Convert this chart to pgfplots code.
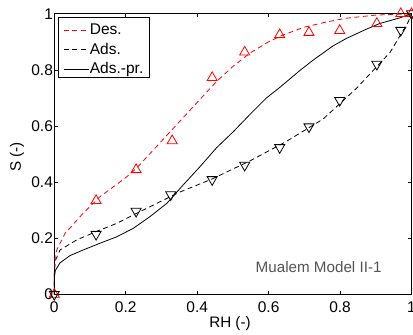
\documentclass[border=0pt]{standalone}
\usepackage{fontspec}
\setmainfont{Liberation Sans}
\usepackage{pgfplots}
\pgfplotsset{compat=1.18}
\definecolor{annot}{rgb}{0.33,0.33,0.33}
\begin{document}
\begin{tikzpicture}
\begin{axis}[
  scale only axis, width=357.2pt, height=280.6pt,
  xmin=0, xmax=1, ymin=0, ymax=1,
  xtick={0,0.2,0.4,0.6,0.8,1}, ytick={0,0.2,0.4,0.6,0.8,1},
  xticklabels={0,0.2,0.4,0.6,0.8,1}, yticklabels={0,0.2,0.4,0.6,0.8,1},
  tick align=inside, major tick length=3.6pt,
  axis line style={line width=0.8pt},
  every tick/.style={black, line width=0.6pt},
  tick label style={font=\fontsize{15.5}{18}\selectfont},
  xticklabel style={inner sep=0pt, yshift=-7.4pt},
  yticklabel style={inner sep=0pt, xshift=-1.2pt},
  xlabel={RH (-)}, ylabel={S (-)},
  every axis x label/.style={at={(axis description cs:0.5,0)}, anchor=north, inner sep=0pt, yshift=-22pt, xshift=-2.9pt, font=\fontsize{15.2}{18}\selectfont},
  every axis y label/.style={at={(axis description cs:0,0.5)}, xshift=-37.3pt, yshift=-2.7pt, rotate=90, anchor=center, inner sep=0pt, font=\fontsize{15.2}{18}\selectfont},
  legend cell align=left,
  legend image code/.code={\draw[#1] (0pt,-2.4pt) -- (25pt,-2.4pt);},
  legend style={at={(axis description cs:0,1)}, anchor=north west,
    xshift=3.7pt, yshift=-3.0pt, draw=black, line width=0.6pt, fill=white,
    inner xsep=5.3pt, inner ysep=3.6pt, row sep=5.7pt, column sep=0pt,
    font=\fontsize{15.5}{18}\selectfont,
    nodes={inner xsep=0.5pt, inner ysep=0pt, text height=14pt, text depth=0pt}},
  clip=false,
]
% Des. curve
\addplot[red, line width=0.8pt, dash pattern=on 5pt off 3.5pt] coordinates {
 (0,0) (0.0003,0.09) (0.003,0.14) (0.007,0.158) (0.03,0.217) (0.081,0.289)
 (0.128,0.348) (0.175,0.392) (0.203,0.419) (0.23,0.449) (0.277,0.514)
 (0.33,0.587) (0.361,0.630) (0.408,0.695) (0.454,0.758) (0.5,0.812)
 (0.547,0.859) (0.6,0.900) (0.64,0.924) (0.7,0.952) (0.76,0.970)
 (0.818,0.984) (0.9,0.995) (1,1)};
\addlegendentry{Des.}
% Ads. curve
\addplot[black, line width=0.8pt, dash pattern=on 5pt off 3.5pt] coordinates {
 (0,0) (0.0003,0.08) (0.003,0.12) (0.016,0.158) (0.063,0.194) (0.12,0.225)
 (0.175,0.253) (0.231,0.289) (0.287,0.324) (0.347,0.362) (0.44,0.41)
 (0.547,0.475) (0.65,0.545) (0.753,0.625) (0.846,0.734) (0.94,0.862)
 (0.991,0.971) (1,1)};
\addlegendentry{Ads.}
% Ads.-pr. curve
\addplot[black, line width=0.8pt] coordinates {
 (0,0) (0.0002,0.06) (0.003,0.085) (0.016,0.112) (0.044,0.138) (0.081,0.158)
 (0.128,0.182) (0.175,0.205) (0.221,0.235) (0.268,0.277) (0.315,0.324)
 (0.361,0.390) (0.408,0.455) (0.454,0.522) (0.5,0.578) (0.547,0.640)
 (0.594,0.700) (0.631,0.737) (0.687,0.797) (0.725,0.835) (0.78,0.885)
 (0.818,0.912) (0.874,0.945) (0.911,0.965) (0.967,0.985) (1,1)};
\addlegendentry{Ads.-pr.}
% Des. markers
\addplot[red, only marks, mark=triangle, mark size=5.8pt,
  mark options={line width=0.8pt, solid}, forget plot] coordinates {
 (0,0) (0.117,0.334) (0.229,0.444) (0.33,0.547) (0.442,0.772) (0.533,0.863)
 (0.631,0.925) (0.713,0.933) (0.799,0.940) (0.903,0.965) (0.97,1.0) (1,1)};
% Ads. markers
\addplot[black, only marks, mark=triangle, mark size=5.8pt,
  mark options={line width=0.8pt, solid, rotate=180}, forget plot] coordinates {
 (0,0) (0.117,0.214) (0.229,0.296) (0.326,0.355) (0.442,0.409) (0.533,0.460)
 (0.631,0.523) (0.713,0.597) (0.799,0.691) (0.903,0.820) (0.97,0.941) (1,1)};
\node[anchor=base, text=annot, font=\fontsize{15.2}{18}\selectfont, inner sep=0pt]
  at (axis cs:0.74,0.078) {Mualem Model II-1};
\coordinate (ll) at (rel axis cs:0,0);
\coordinate (ur) at (rel axis cs:1,1);
\end{axis}
\pgfresetboundingbox
\path[use as bounding box] ([shift={(-54.3pt,-40.7pt)}]ll) rectangle ([shift={(1.5pt,13.7pt)}]ur);
\end{tikzpicture}
\end{document}
